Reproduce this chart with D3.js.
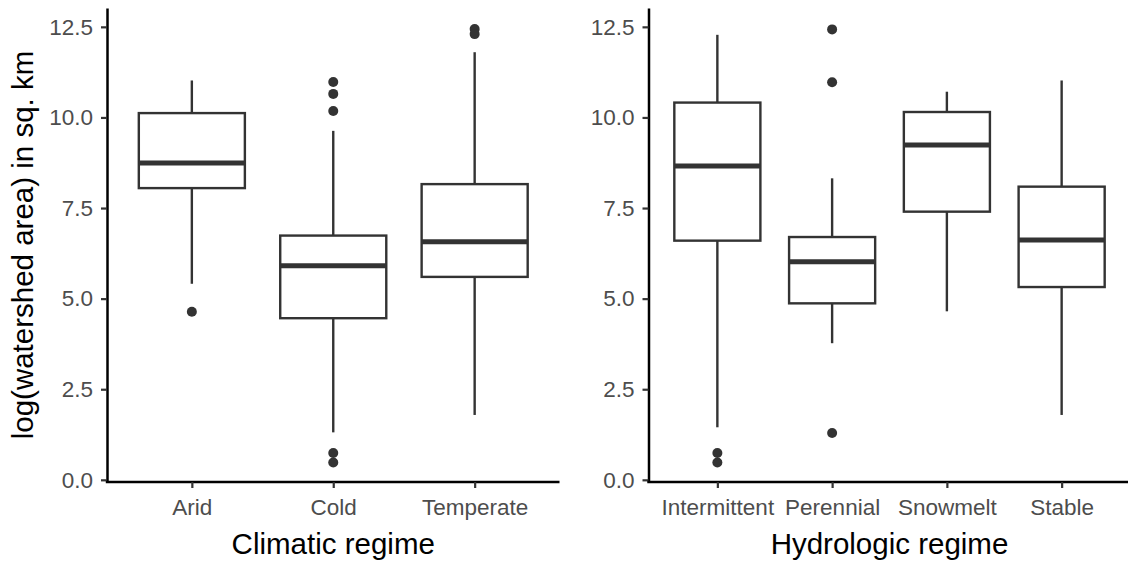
<!DOCTYPE html>
<html>
<head>
<meta charset="utf-8">
<script src="https://cdn.jsdelivr.net/npm/d3@7"></script>
<style>
  html, body { margin: 0; padding: 0; background: #fff; }
  svg { display: block; font-family: "Liberation Sans", Arial, sans-serif; }
</style>
</head>
<body>
<svg id="chart" width="1128" height="563"></svg>
<script>
// Watershed area (log, sq. km) summarised by regime: five-number boxes plus outliers
const climaticCategories = ["Arid", "Cold", "Temperate"];
const climaticLower    = [5.41, 1.31, 1.79];
const climaticQ1       = [8.05, 4.46, 5.60];
const climaticMedian   = [8.74, 5.91, 6.57];
const climaticQ3       = [10.12, 6.74, 8.16];
const climaticUpper    = [11.02, 9.63, 11.80];
const climaticOutliers = [[4.64], [10.98, 10.65, 10.18, 0.74, 0.48], [12.44, 12.30]];

const hydroCategories = ["Intermittent", "Perennial", "Snowmelt", "Stable"];
const hydroLower    = [1.45, 3.77, 4.65, 1.79];
const hydroQ1       = [6.60, 4.87, 7.40, 5.32];
const hydroMedian   = [8.66, 6.02, 9.24, 6.62];
const hydroQ3       = [10.41, 6.70, 10.15, 8.09];
const hydroUpper    = [12.28, 8.32, 10.71, 11.02];
const hydroOutliers = [[0.74, 0.48], [12.43, 10.97, 1.29], [], []];

const yTicks = [0, 2.5, 5, 7.5, 10, 12.5];
const yTitle = "log(watershed area) in sq. km";

const svg = d3.select("#chart");
const ink = "#333333";
const tickFont = "22.5px";
const titleFont = "29.5px";

const y = d3.scaleLinear().domain([-0.06, 13.02]).range([482, 8]);

function panel(cfg) {
  const g = svg.append("g");
  const x = d3.scalePoint().domain(cfg.cats).range([cfg.x0, cfg.x1]).padding(0.6);
  const bw = x.step() * 0.75;

  const rows = cfg.cats.map((c, i) => ({
    cat: c, lo: cfg.lower[i], q1: cfg.q1[i], med: cfg.median[i],
    q3: cfg.q3[i], hi: cfg.upper[i], out: cfg.outliers[i]
  }));

  const box = g.selectAll("g.box").data(rows).join("g").attr("class", "box");

  // whiskers
  box.append("line")
    .attr("x1", d => x(d.cat)).attr("x2", d => x(d.cat))
    .attr("y1", d => y(d.q3)).attr("y2", d => y(d.hi))
    .attr("stroke", ink).attr("stroke-width", 2.4);
  box.append("line")
    .attr("x1", d => x(d.cat)).attr("x2", d => x(d.cat))
    .attr("y1", d => y(d.q1)).attr("y2", d => y(d.lo))
    .attr("stroke", ink).attr("stroke-width", 2.4);

  // box body
  box.append("rect")
    .attr("x", d => x(d.cat) - bw / 2).attr("width", bw)
    .attr("y", d => y(d.q3)).attr("height", d => y(d.q1) - y(d.q3))
    .attr("fill", "#fff").attr("stroke", ink).attr("stroke-width", 2.4);

  // median
  box.append("line")
    .attr("x1", d => x(d.cat) - bw / 2).attr("x2", d => x(d.cat) + bw / 2)
    .attr("y1", d => y(d.med)).attr("y2", d => y(d.med))
    .attr("stroke", ink).attr("stroke-width", 5);

  // outliers
  box.selectAll("circle").data(d => d.out.map(v => ({ cat: d.cat, v })))
    .join("circle")
    .attr("cx", d => x(d.cat)).attr("cy", d => y(d.v)).attr("r", 5)
    .attr("fill", ink);

  // axes
  const yAxis = g.append("g").attr("transform", `translate(${cfg.x0},0)`)
    .call(d3.axisLeft(y).tickValues(yTicks).tickFormat(d3.format(".1f"))
      .tickSize(6).tickSizeOuter(0).tickPadding(8));
  const xAxis = g.append("g").attr("transform", "translate(0,482)")
    .call(d3.axisBottom(x).tickSize(6).tickSizeOuter(0).tickPadding(11));

  [yAxis, xAxis].forEach(a => {
    a.select(".domain").attr("stroke", "#000").attr("stroke-width", 2.5);
    a.selectAll(".tick line").attr("stroke", ink).attr("stroke-width", 2.2);
    a.selectAll(".tick text").attr("fill", "#4d4d4d").style("font-size", tickFont);
  });
  xAxis.select(".domain").attr("d", `M${cfg.x0 - 1.2},0H${cfg.x1}`);

  g.append("text")
    .attr("x", (cfg.x0 + cfg.x1) / 2).attr("y", 554)
    .attr("text-anchor", "middle").attr("fill", "#000")
    .style("font-size", titleFont)
    .text(cfg.title);
}

panel({
  cats: climaticCategories, lower: climaticLower, q1: climaticQ1, median: climaticMedian,
  q3: climaticQ3, upper: climaticUpper, outliers: climaticOutliers,
  x0: 107, x1: 559.5, title: "Climatic regime"
});
panel({
  cats: hydroCategories, lower: hydroLower, q1: hydroQ1, median: hydroMedian,
  q3: hydroQ3, upper: hydroUpper, outliers: hydroOutliers,
  x0: 648.5, x1: 1130.5, title: "Hydrologic regime"
});

svg.append("text")
  .attr("transform", `translate(33,${(8 + 482) / 2}) rotate(-90)`)
  .attr("text-anchor", "middle").attr("fill", "#000")
  .style("font-size", titleFont)
  .text(yTitle);
</script>
</body>
</html>
